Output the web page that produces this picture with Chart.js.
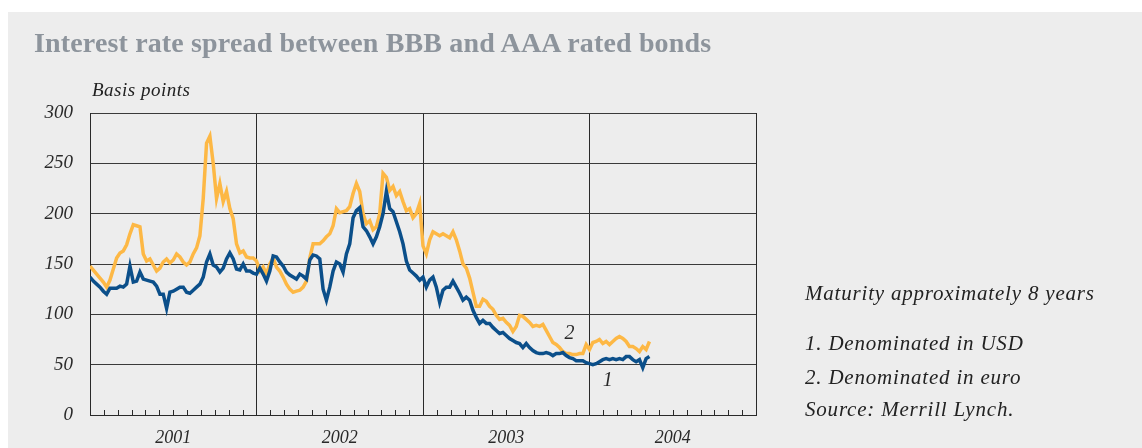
<!DOCTYPE html>
<html>
<head>
<meta charset="utf-8">
<script src="https://cdn.jsdelivr.net/npm/chart.js@4.4.1/dist/chart.umd.min.js"></script>
<style>
  html,body{margin:0;padding:0;background:#fff;width:1142px;height:448px;overflow:hidden;}
  #bg{position:absolute;left:8px;top:12px;width:1134px;height:436px;background:#ededed;}
  #c{position:absolute;left:0;top:0;}
  .t{position:absolute;font-family:"Liberation Serif","DejaVu Serif",serif;white-space:nowrap;line-height:1;}
  #title{left:34px;top:29px;font-size:28px;font-weight:bold;color:#8d949c;letter-spacing:0.15px;}
  #unit{left:92px;top:80px;font-size:19px;font-style:italic;color:#222;letter-spacing:0.5px;}
  .note{left:805px;font-size:21px;font-style:italic;color:#222;letter-spacing:0.8px;}
</style>
</head>
<body>
<div id="bg"></div>
<canvas id="c" width="1142" height="448"></canvas>
<div class="t" id="title">Interest rate spread between BBB and AAA rated bonds</div>
<div class="t" id="unit">Basis points</div>
<div class="t note" style="top:283px">Maturity approximately 8 years</div>
<div class="t note" style="top:333px">1. Denominated in USD</div>
<div class="t note" style="top:367px">2. Denominated in euro</div>
<div class="t note" style="top:399px">Source: Merrill Lynch.</div>
<script>
// ---- data (weekly readings, basis points) ----
const years = [2001, 2002, 2003, 2004];
const yearLabels = ['2001', '2002', '2003', '2004'];
const yTicks = [0, 50, 100, 150, 200, 250, 300];
const weeksPerYear = 50;

const usd2001 = [137,133,130,127,123,120,126,126,126,128,127,130,148,132,133,142,135,134,133,132,128,120,120,106,122,123,125,127,127,122,121,124,127,130,137,152,160,149,147,142,146,155,161,155,145,144,150,143,143,141];
const usd2002 = [140,146,140,133,143,158,157,152,148,142,139,137,135,140,138,135,154,159,158,155,125,114,127,143,152,150,142,160,170,196,203,206,187,183,177,170,177,187,200,222,205,202,192,182,170,153,144,141,138,134];
const usd2003 = [137,127,134,137,127,112,124,127,127,133,127,121,114,117,114,104,97,91,94,91,91,87,84,81,82,79,76,74,72,71,67,71,67,64,62,61,61,62,61,59,61,61,62,59,57,56,54,54,54,52];
const usd2004 = [51,50,51,53,55,56,55,56,55,56,55,58,58,55,53,55,47,56,58];

const eur2001 = [148,144,140,136,132,127,134,145,156,161,163,169,180,189,188,187,160,153,155,149,143,146,152,155,151,154,160,157,152,149,152,160,166,178,215,270,277,250,215,230,212,222,205,195,170,161,163,157,156,156];
const eur2002 = [153,143,147,140,150,156,147,143,137,130,125,122,123,124,127,133,156,170,170,170,173,177,180,188,205,201,202,203,207,220,230,222,200,190,193,184,187,200,240,236,223,227,218,222,212,203,205,196,200,210];
const eur2003 = [168,160,174,182,180,178,180,178,176,182,174,163,150,146,136,122,108,108,115,113,108,105,99,95,96,92,89,83,88,99,98,95,92,88,89,88,90,84,78,72,70,67,63,61,61,60,60,61,61,70];
const eur2004 = [65,72,73,75,71,73,70,73,76,78,76,73,68,68,66,63,68,65,73];

const usdByYear = [usd2001, usd2002, usd2003, usd2004];
const eurByYear = [eur2001, eur2002, eur2003, eur2004];

function toPoints(byYear) {
  const pts = [];
  byYear.forEach((arr, k) => {
    arr.forEach((v, i) => pts.push({ x: years[k] + i / weeksPerYear, y: v }));
  });
  return pts;
}

const BLUE = '#0b4f8a';
const ORANGE = '#fdb845';
const INK = '#2a2a2a';
const SERIF = '"Liberation Serif", "DejaVu Serif", serif';

const monthTicks = {
  id: 'monthTicks',
  afterDatasetsDraw(chart) {
    const xs = chart.scales.x, ys = chart.scales.y, ctx = chart.ctx;
    const bottom = ys.getPixelForValue(0);
    ctx.save();
    ctx.strokeStyle = INK;
    ctx.lineWidth = 1;
    for (let m = 1; m < 48; m++) {
      if (m % 12 === 0) continue;
      const x = Math.round(xs.getPixelForValue(years[0] + m / 12)) + 0.5;
      ctx.beginPath();
      ctx.moveTo(x, bottom);
      ctx.lineTo(x, bottom - 5);
      ctx.stroke();
    }
    // series labels
    ctx.fillStyle = INK;
    ctx.font = 'italic 20px ' + SERIF;
    ctx.textAlign = 'center';
    ctx.textBaseline = 'middle';
    ctx.fillText('2', xs.getPixelForValue(2003.88), ys.getPixelForValue(81));
    ctx.fillText('1', xs.getPixelForValue(2004.11), ys.getPixelForValue(34));
    ctx.restore();
  }
};

new Chart(document.getElementById('c'), {
  type: 'line',
  data: {
    datasets: [
      { label: '1. Denominated in USD', data: toPoints(usdByYear), borderColor: BLUE, borderWidth: 3.5, pointRadius: 0, tension: 0, order: 1 },
      { label: '2. Denominated in euro', data: toPoints(eurByYear), borderColor: ORANGE, borderWidth: 3.5, pointRadius: 0, tension: 0, order: 2 }
    ]
  },
  options: {
    responsive: false,
    animation: false,
    layout: { padding: { left: 0, right: 386, top: 113, bottom: 0 } },
    plugins: { legend: { display: false }, tooltip: { enabled: false } },
    scales: {
      x: {
        type: 'linear',
        min: 2001, max: 2005,
        afterBuildTicks(s) {
          const t = [];
          for (let v = 2001; v <= 2005; v += 0.5) t.push({ value: v });
          s.ticks = t;
        },
        afterFit(s) { s.height = 33; },
        grid: {
          color: c => (c.tick && Number.isInteger(c.tick.value)) ? INK : 'rgba(0,0,0,0)',
          lineWidth: 1,
          drawTicks: false
        },
        border: { color: INK, width: 1 },
        ticks: {
          padding: 12,
          maxRotation: 0,
          autoSkip: false,
          color: INK,
          font: { family: SERIF, size: 18, style: 'italic' },
          callback: v => {
            const i = years.indexOf(Math.floor(v));
            return (v % 1 === 0.5 && i >= 0) ? yearLabels[i] : '';
          }
        }
      },
      y: {
        min: 0, max: 300,
        afterBuildTicks(s) { s.ticks = yTicks.map(v => ({ value: v })); },
        afterFit(s) { s.width = 90; },
        grid: { color: '#3a3a3a', lineWidth: 1, drawTicks: false },
        border: { color: INK, width: 1 },
        ticks: {
          padding: 17,
          color: INK,
          font: { family: SERIF, size: 19, style: 'italic' }
        }
      }
    }
  },
  plugins: [monthTicks]
});
</script>
</body>
</html>
